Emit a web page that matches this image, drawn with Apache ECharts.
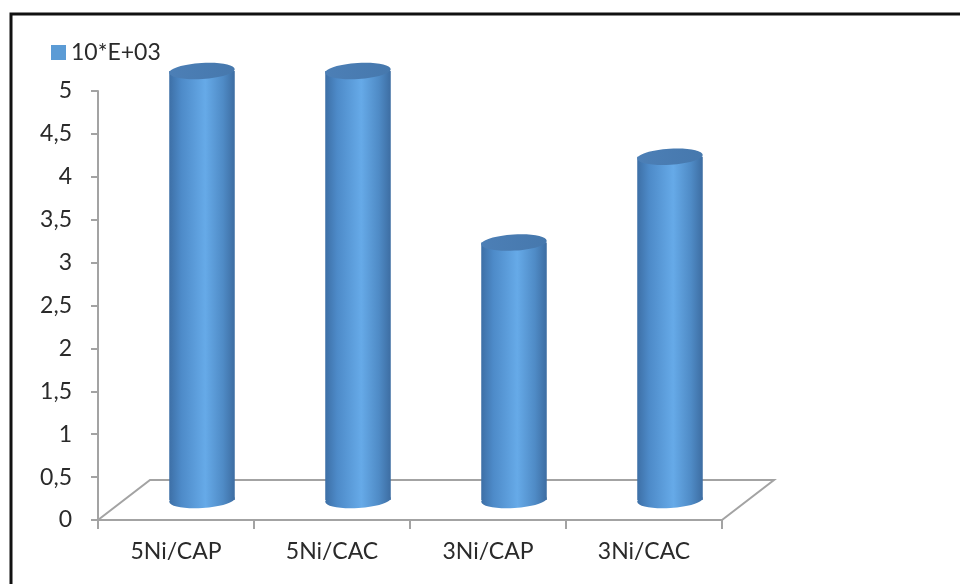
<!DOCTYPE html>
<html>
<head>
<meta charset="utf-8">
<script src="https://cdn.jsdelivr.net/npm/echarts@6/dist/echarts.min.js"></script>
<style>
  html, body { margin: 0; padding: 0; background: #ffffff; }
  #chart { width: 960px; height: 584px; }
</style>
</head>
<body>
<div id="chart"></div>
<script>
// Samples and their measured values
const categories = ['5Ni/CAP', '5Ni/CAC', '3Ni/CAP', '3Ni/CAC'];
const values = [5, 5, 3, 4];
const seriesName = '10*E+03';
const yTicks = { min: 0, max: 5, interval: 0.5 };

// Pseudo-3D floor depth (pixels) and cylinder look
const DEPTH_X = 52;
const DEPTH_Y = 40;
const RY = 8;
const TILT = 0.06;
const FONT = 'Lato, "Open Sans", sans-serif';
const AXIS_GRAY = '#a3a3a3';
const TEXT_COLOR = '#2a2a2a';

const bodyGradient = {
  type: 'linear', x: 0, y: 0, x2: 1, y2: 0,
  colorStops: [
    { offset: 0, color: '#3d6fa6' },
    { offset: 0.18, color: '#4d8ac8' },
    { offset: 0.55, color: '#66aae8' },
    { offset: 0.82, color: '#4f8bc6' },
    { offset: 1, color: '#3d6da2' }
  ]
};
const topGradient = {
  type: 'linear', x: 0, y: 0, x2: 1, y2: 0,
  colorStops: [
    { offset: 0, color: '#4c7fb6' },
    { offset: 1, color: '#4678ad' }
  ]
};

function renderFloor(params, api) {
  const cs = params.coordSys;
  const x0 = cs.x, x1 = cs.x + cs.width, yb = cs.y + cs.height;
  return {
    type: 'polyline',
    shape: {
      points: [
        [x0, yb],
        [x0 + DEPTH_X, yb - DEPTH_Y],
        [x1 + DEPTH_X, yb - DEPTH_Y],
        [x1, yb]
      ]
    },
    style: { stroke: AXIS_GRAY, lineWidth: 2, fill: null },
    silent: true
  };
}

function renderCylinder(params, api) {
  const i = api.value(0);
  const v = api.value(1);
  const base = api.coord([i, 0]);
  const top = api.coord([i, v]);
  const band = api.size([1, 0])[0];
  const rx = band * 0.21;
  const cx = base[0] + DEPTH_X / 2;
  const by = base[1] - DEPTH_Y / 2;
  const ty = top[1] - DEPTH_Y / 2;
  return {
    type: 'group',
    children: [
      {
        type: 'ellipse',
        shape: { cx: cx, cy: by, rx: rx, ry: RY },
        originX: cx, originY: by, rotation: TILT,
        style: { fill: bodyGradient }
      },
      {
        type: 'rect',
        shape: { x: cx - rx, y: ty, width: rx * 2, height: by - ty },
        style: { fill: bodyGradient }
      },
      {
        type: 'ellipse',
        shape: { cx: cx, cy: ty, rx: rx, ry: RY },
        originX: cx, originY: ty, rotation: TILT,
        style: { fill: topGradient }
      }
    ]
  };
}

const chart = echarts.init(document.getElementById('chart'), null, { renderer: 'canvas' });

chart.setOption({
  animation: false,
  backgroundColor: '#ffffff',
  graphic: [
    {
      type: 'rect',
      shape: { x: 11, y: 14, width: 1000, height: 1000 },
      style: { fill: null, stroke: '#111111', lineWidth: 3 },
      silent: true,
      z: 100
    }
  ],
  legend: {
    data: [seriesName],
    left: 46,
    top: 36,
    icon: 'rect',
    itemWidth: 15,
    itemHeight: 15,
    itemGap: 10,
    textStyle: { fontFamily: FONT, fontSize: 23, color: TEXT_COLOR }
  },
  grid: { left: 98, right: 238, top: 91, bottom: 64, containLabel: false },
  xAxis: {
    type: 'category',
    data: categories,
    axisLine: { show: true, lineStyle: { color: AXIS_GRAY, width: 2 } },
    axisTick: { show: true, length: 9, lineStyle: { color: AXIS_GRAY, width: 2 } },
    axisLabel: { fontFamily: FONT, fontSize: 23, color: TEXT_COLOR, margin: 20 },
    splitLine: { show: false }
  },
  yAxis: {
    type: 'value',
    min: yTicks.min,
    max: yTicks.max,
    interval: yTicks.interval,
    axisLine: { show: true, lineStyle: { color: AXIS_GRAY, width: 2 } },
    axisTick: { show: true, length: 7, lineStyle: { color: AXIS_GRAY, width: 2 } },
    axisLabel: {
      fontFamily: FONT, fontSize: 23, color: TEXT_COLOR, margin: 26,
      formatter: function (v) { return String(v).replace('.', ','); }
    },
    splitLine: { show: false }
  },
  series: [
    {
      name: 'floor',
      type: 'custom',
      renderItem: renderFloor,
      data: [[0, 0]],
      silent: true,
      z: 1
    },
    {
      name: seriesName,
      type: 'custom',
      renderItem: renderCylinder,
      itemStyle: { color: '#5b9bd5' },
      encode: { x: 0, y: 1 },
      data: categories.map(function (c, i) { return [i, values[i]]; }),
      z: 2
    }
  ]
});
</script>
</body>
</html>
